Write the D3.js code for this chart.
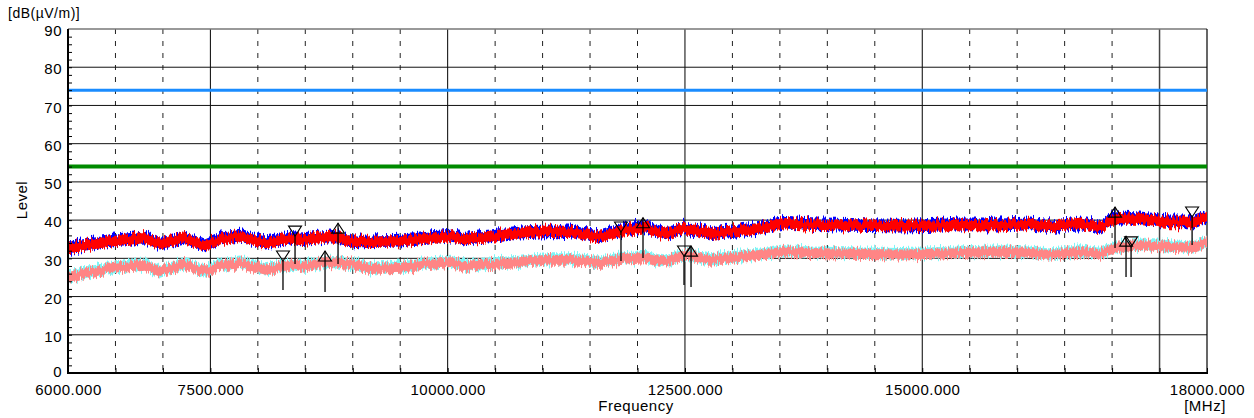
<!DOCTYPE html>
<html><head><meta charset="utf-8">
<script src="https://cdn.jsdelivr.net/npm/d3@7/dist/d3.min.js"></script>
<style>
body{margin:0;background:#fff;}
svg text{font-family:"Liberation Sans",Arial,sans-serif;font-size:15px;letter-spacing:0.5px;fill:#000;}
</style></head>
<body><svg id="c" width="1254" height="418"></svg>
<script>
// ---- data ----
const freqs = [6000,6470,6810,6970,7230,7440,7600,7810,8080,8340,8450,8760,9020,9180,9500,9810,10030,10180,10450,10760,11030,11290,11600,11820,12080,12290,12500,12760,12980,13290,13550,13820,14240,14770,15290,15820,16140,16350,16660,16870,17030,17290,17610,17870,18000];
const peakLevels = [32.7,34.5,35.3,33.7,35.3,33.2,35.0,35.8,34.0,35.3,34.8,35.6,34.3,34.3,34.5,35.3,35.8,35.0,35.6,36.6,36.9,36.9,35.6,37.2,38.2,36.4,37.7,36.4,36.9,37.9,39.2,38.8,38.6,38.4,38.7,38.7,39.0,38.2,39.0,38.2,40.6,40.3,39.5,39.5,40.8];
const avgLevels  = [25.1,27.5,28.3,26.4,28.5,26.4,28.0,28.8,27.0,28.3,27.7,29.0,28.3,27.2,27.5,28.5,29.0,28.0,28.5,29.0,29.6,29.6,28.8,29.8,30.3,29.0,30.9,29.6,30.1,30.9,31.7,31.4,31.2,31.0,31.3,31.7,31.4,30.9,31.7,31.1,32.7,33.5,33.0,32.7,34.3];
const limitPeak = 74;
const limitAvg = 54;
// markers: freq, level at symbol tip, lower end of stem, type
const markerFreqs  = [8265,8392,8708,8845,11826,12058,12490,12564,17031,17147,17200,17843];
const markerLevels = [29.3,35.8,31.9,39.2,36.9,40.6,30.6,33.2,43.4,35.8,33.0,40.8];
const markerLows   = [21.7,28.5,21.2,28.5,29.3,30.1,23.0,22.5,32.7,25.1,25.1,33.5];
const markerTypes  = ["down","down","up","up","down","up","down","up","up","up","down","down"];
const xTickLabels = [6000,7500,10000,12500,15000,18000];
const yTickLabels = [0,10,20,30,40,50,60,70,80,90];

// ---- drawing ----
const svg = d3.select("#c");
const L=68,R=1207,T=29,B=373;
const x = d3.scaleLinear().domain([6000,18000]).range([L,R]);
const y = d3.scaleLinear().domain([0,90]).range([B,T]);

// texture filters (styling only)
const defs = svg.append("defs");
function jag(id, seed, sc){
  const f = defs.append("filter").attr("id",id).attr("filterUnits","userSpaceOnUse")
    .attr("x",0).attr("y",0).attr("width",1254).attr("height",418);
  f.append("feTurbulence").attr("type","fractalNoise").attr("baseFrequency","0.7 0.02")
    .attr("numOctaves",2).attr("seed",seed).attr("result","n");
  f.append("feColorMatrix").attr("in","n").attr("type","matrix")
    .attr("values","0 0 0 0 0.5  0 1 0 0 0  0 0 1 0 0  0 0 0 0 1").attr("result","m");
  f.append("feDisplacementMap").attr("in","SourceGraphic").attr("in2","m")
    .attr("scale",sc).attr("xChannelSelector","R").attr("yChannelSelector","G");
}
jag("j1",3,12); jag("j2",11,12); jag("j3",5,12); jag("j4",19,12);

// grid
const isMajor = d => (d-7500)%2500===0;
const vgrid = d3.range(6500,18000,500);
svg.append("g").selectAll("line").data(vgrid).join("line")
  .attr("x1",d=>x(d)).attr("x2",d=>x(d)).attr("y1",T).attr("y2",B)
  .attr("stroke",d=>isMajor(d)?(d===17500?"#444":"#000"):"#222")
  .attr("stroke-width",d=>d===17500?1.5:1)
  .attr("stroke-dasharray",d=>isMajor(d)?null:"5,7");
svg.append("g").selectAll("line").data(d3.range(10,90,10)).join("line")
  .attr("x1",L).attr("x2",R).attr("y1",d=>y(d)).attr("y2",d=>y(d))
  .attr("stroke","#111").attr("stroke-width",1);
// frame top/right
svg.append("line").attr("x1",L).attr("x2",R).attr("y1",T).attr("y2",T).attr("stroke","#777").attr("stroke-width",1.5);
svg.append("line").attr("x1",R).attr("x2",R).attr("y1",T).attr("y2",B).attr("stroke","#000").attr("stroke-width",1.2);

// limit lines
svg.append("line").attr("x1",x(6000)).attr("x2",x(18000)).attr("y1",y(limitPeak)).attr("y2",y(limitPeak))
  .attr("stroke","#1a8cff").attr("stroke-width",3);
svg.append("line").attr("x1",x(6000)).attr("x2",x(18000)).attr("y1",y(limitAvg)).attr("y2",y(limitAvg))
  .attr("stroke","#008a00").attr("stroke-width",4);

// traces as bands
function band(vals, lo, hi, color, filt){
  const pts = freqs.map((f,i)=>({f, v:vals[i]}));
  const a = d3.area().x(d=>x(d.f)).y0(d=>y(d.v-lo)).y1(d=>y(d.v+hi));
  svg.append("path").datum(pts).attr("d",a).attr("fill",color).attr("filter","url(#"+filt+")");
}
band(avgLevels,1.2,1.7,"#7ff5f5","j3");
band(avgLevels,1.3,1.3,"#ff8585","j4");
band(peakLevels,1.4,1.7,"#0000ff","j1");
band(peakLevels,1.35,1.35,"#ff0000","j2");

// markers
const mk = markerFreqs.map((f,i)=>({f,v:markerLevels[i],lo:markerLows[i],t:markerTypes[i]}));
const mg = svg.append("g");
mg.selectAll("line").data(mk).join("line")
  .attr("x1",d=>x(d.f)).attr("x2",d=>x(d.f)).attr("y1",d=>y(d.v)).attr("y2",d=>y(d.lo))
  .attr("stroke","#000").attr("stroke-width",1.3);
mg.selectAll("path").data(mk).join("path")
  .attr("d",d=>{const cx=x(d.f), cy=y(d.v);
    return d.t==="down" ? `M${cx-6.5},${cy-10}L${cx+6.5},${cy-10}L${cx},${cy}Z`
                        : `M${cx-6.5},${cy+10}L${cx+6.5},${cy+10}L${cx},${cy}Z`;})
  .attr("fill","none").attr("stroke","#000").attr("stroke-width",1.1);

// axes
svg.append("g").attr("transform",`translate(${L},0)`)
  .call(d3.axisLeft(y).tickValues(yTickLabels).tickSize(0).tickPadding(6))
  .selectAll("text").attr("dy",d=>d===0?"0.25em":"0.45em");
svg.append("g").attr("transform",`translate(${L},0)`)
  .call(d3.axisLeft(y).tickValues(d3.range(0,90,2)).tickSize(-4).tickFormat(""));
svg.append("g").attr("transform",`translate(0,${B})`)
  .call(d3.axisBottom(x).tickValues(xTickLabels).tickSize(0).tickPadding(11).tickFormat(d3.format(".3f")));
svg.append("g").attr("transform",`translate(0,${B})`)
  .call(d3.axisBottom(x).tickValues(d3.range(6000,18001,500)).tickSize(-5).tickFormat(""));
svg.selectAll(".domain").remove();
svg.selectAll(".tick line").attr("stroke","#000");
svg.selectAll(".tick text").style("font-size","15px").attr("fill","#000");
// main axis lines
svg.append("line").attr("x1",L).attr("x2",L).attr("y1",T).attr("y2",B+1).attr("stroke","#000").attr("stroke-width",2);
svg.append("line").attr("x1",L).attr("x2",R+1).attr("y1",B).attr("y2",B).attr("stroke","#000").attr("stroke-width",2);

// titles
svg.append("text").attr("x",8).attr("y",18).style("font-size","14px").text("[dB(µV/m)]");
svg.append("text").attr("transform","translate(27,200) rotate(-90)").attr("text-anchor","middle").text("Level");
svg.append("text").attr("x",636).attr("y",411).attr("text-anchor","middle").text("Frequency");
svg.append("text").attr("x",1205).attr("y",411).attr("text-anchor","middle").text("[MHz]");
</script></body></html>
